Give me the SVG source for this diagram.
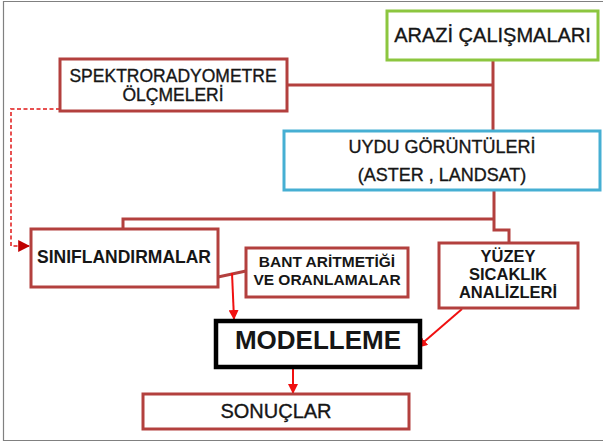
<svg xmlns="http://www.w3.org/2000/svg" width="603" height="443" viewBox="0 0 603 443">
<defs>
<style>
.box{fill:#fff;stroke-width:3}
.red{stroke:#b3403e}
.t{font-family:"Liberation Sans",Arial,sans-serif;fill:#161616;text-anchor:middle}
.r{stroke:#161616;stroke-width:0.35}
.b{font-weight:bold}
.conn{fill:none;stroke:#b3403e;stroke-width:3}
.arr{fill:none;stroke:#f01010;stroke-width:2}
</style>
<marker id="ah" viewBox="0 0 10 10" refX="9" refY="5" markerWidth="5" markerHeight="5" orient="auto" markerUnits="strokeWidth">
<path d="M0,0 L10,5 L0,10 z" fill="#f01010"/>
</marker>
<marker id="ahd" viewBox="0 0 10 10" refX="9" refY="5" markerWidth="6" markerHeight="6" orient="auto" markerUnits="strokeWidth">
<path d="M0,0 L10,5 L0,10 z" fill="#c00000"/>
</marker>
</defs>
<rect width="603" height="443" fill="#fff"/>
<path d="M603,1.5 H3.5 V440.5 H603" fill="none" stroke="#808080" stroke-width="1.2"/>
<g id="connectors">
<path class="conn" d="M493,60 V131"/>
<path class="conn" d="M287,85 H493"/>
<path class="conn" d="M494,190 V230 H509 V243"/>
<path class="conn" d="M494,219 H123 V229"/>
<path class="conn" d="M218,277 L246,271"/>
<path d="M60,109 H11 V246 H29" fill="none" stroke="#e85050" stroke-width="2" stroke-dasharray="4,2.5" marker-end="url(#ahd)"/>
<path class="arr" d="M232,273 L234,319" marker-end="url(#ah)"/>
<path class="arr" d="M462,309 L418,347" marker-end="url(#ah)"/>
<path class="arr" d="M293,369 V393" marker-end="url(#ah)"/>
</g>
<g id="arazi">
<rect class="box" x="387" y="11" width="211" height="49" stroke="#8cc63f"/>
<text class="t r" x="492.5" y="42" font-size="20">ARAZİ ÇALIŞMALARI</text>
</g>
<g id="spektro">
<rect class="box red" x="60" y="59" width="227" height="52"/>
<text class="t r" x="173" y="82" font-size="17.5">SPEKTRORADYOMETRE</text>
<text class="t r" x="173" y="101" font-size="17.5">ÖLÇMELERİ</text>
</g>
<g id="uydu">
<rect class="box" x="284" y="131" width="316" height="59" stroke="#46afd3" stroke-width="2.5"/>
<text class="t r" x="442" y="153" font-size="18">UYDU GÖRÜNTÜLERİ</text>
<text class="t r" x="442" y="181" font-size="18">(ASTER , LANDSAT)</text>
</g>
<g id="siniflandirmalar">
<rect class="box red" x="31" y="229" width="187" height="58"/>
<text class="t b" x="124" y="263" font-size="17.5">SINIFLANDIRMALAR</text>
</g>
<g id="bant">
<rect class="box red" x="246" y="248" width="162" height="49"/>
<text class="t b" x="327" y="267" font-size="15.5">BANT ARİTMETİĞİ</text>
<text class="t b" x="327" y="285" font-size="15.5">VE ORANLAMALAR</text>
</g>
<g id="yuzey">
<rect class="box red" x="439" y="243" width="139" height="65"/>
<text class="t b" x="508" y="262" font-size="16.5">YÜZEY</text>
<text class="t b" x="508" y="280" font-size="16.5">SICAKLIK</text>
<text class="t b" x="508" y="298" font-size="16.5">ANALİZLERİ</text>
</g>
<g id="modelleme">
<rect x="216" y="321" width="204" height="46" fill="#fff" stroke="#000" stroke-width="4.5"/>
<text class="t b" x="318" y="349" font-size="26" fill="#000">MODELLEME</text>
</g>
<g id="sonuclar">
<rect class="box red" x="143" y="394" width="266" height="35"/>
<text class="t r" x="276" y="418" font-size="20">SONUÇLAR</text>
</g>
</svg>
